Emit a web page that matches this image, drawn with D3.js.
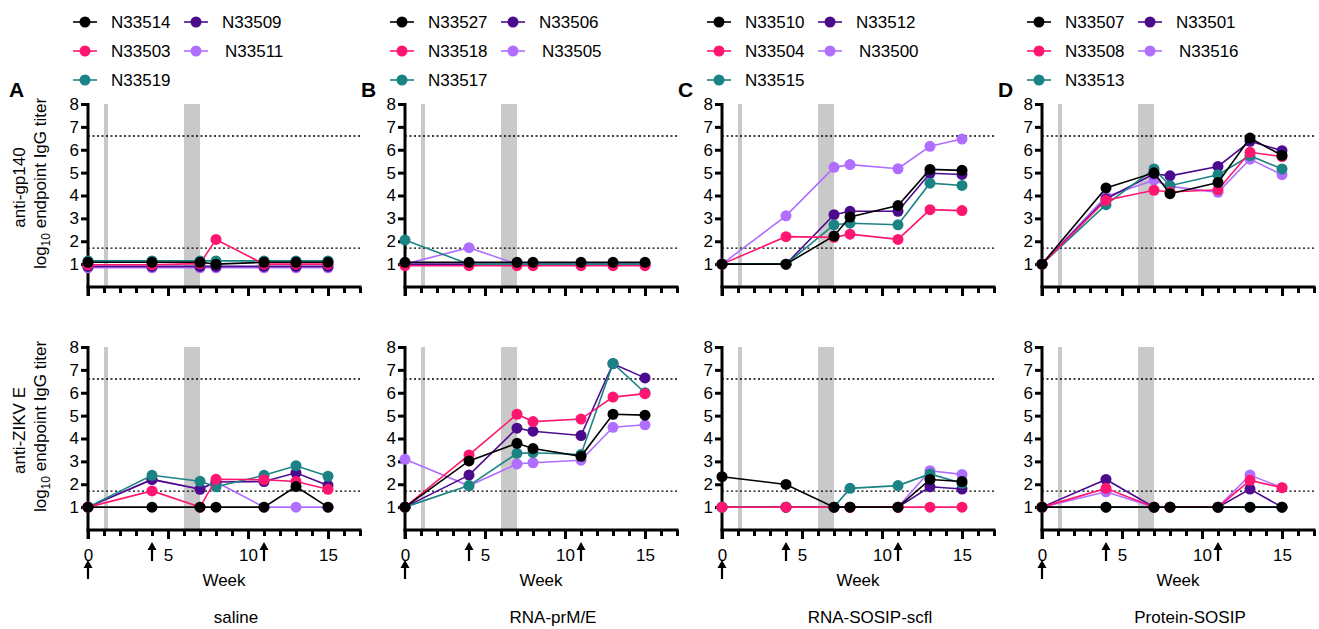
<!DOCTYPE html>
<html lang="en">
<head>
<meta charset="UTF-8">
<title>Endpoint IgG titers</title>
<script src="https://d3js.org/d3.v7.min.js"></script>
<style>
  body { margin: 0; background: #fff; }
  svg text { font-family: "Liberation Sans", Arial, sans-serif; fill: #000; }
  .tick text { font-size: 17px; }
</style>
</head>
<body>
<script>
// weeks sampled
const weeks = [0, 4, 7, 8, 11, 13, 15];
const groups = ["saline", "RNA-prM/E", "RNA-SOSIP-scfl", "Protein-SOSIP"];
const letters = ["A", "B", "C", "D"];
const yTicks = [1, 2, 3, 4, 5, 6, 7, 8];
const xLabels = [0, 5, 10, 15];
const boostWeeks = [0, 4, 11];
const shadeWeeks = [[1, 1.25], [6, 7]];
const cutoffs = [1.7, 6.6];

// legend order (row-major): black, indigo, pink, lavender, teal
const colors = ["#000000", "#4b0b8c", "#ff1670", "#b06eff", "#1b8383"];

const salineIds = ["N33514", "N33509", "N33503", "N33511", "N33519"];
const salineGp140 = [
  [1.08, 1.08, 1.08, 1.0, 1.08, 1.08, 1.08],
  [0.9, 0.9, 0.9, 0.9, 0.9, 0.9, 0.9],
  [0.97, 0.97, 1.02, 2.08, 1.0, 1.0, 1.0],
  [0.84, 0.84, 0.84, 0.84, 0.84, 0.84, 0.84],
  [1.14, 1.14, 1.14, 1.14, 1.14, 1.14, 1.14]
];
const salineZikv = [
  [1, 1, 1, 1, 1, 1.9, 1],
  [1, 2.21, 1.78, 2.1, 2.12, 2.5, 1.95],
  [1, 1.71, 1, 2.22, 2.2, 2.12, 1.78],
  [1, 2.2, 1.8, 2.1, 1, 1, 1],
  [1, 2.39, 2.13, 1.89, 2.39, 2.81, 2.35]
];

const prmeIds = ["N33527", "N33506", "N33518", "N33505", "N33517"];
const prmeGp140 = [
  [1.08, 1.08, 1.08, 1.08, 1.08, 1.08, 1.08],
  [1.0, 1.0, 1.0, 1.0, 1.0, 1.0, 1.0],
  [0.93, 0.93, 0.93, 0.93, 0.93, 0.93, 0.93],
  [1.0, 1.72, 1.0, 1.0, 1.0, 1.0, 1.0],
  [2.05, 1.0, 1.0, 1.0, 1.0, 1.0, 1.0]
];
const prmeZikv = [
  [1, 3.02, 3.79, 3.56, 3.22, 5.06, 5.02],
  [1, 2.4, 4.45, 4.32, 4.13, 7.27, 6.65],
  [1, 3.28, 5.06, 4.74, 4.85, 5.81, 5.96],
  [3.09, 1.93, 2.89, 2.94, 3.05, 4.49, 4.6],
  [1, 1.94, 3.35, 3.38, 3.3, 7.28, 6.0]
];

const sosipIds = ["N33510", "N33512", "N33504", "N33500", "N33515"];
const sosipGp140 = [
  [1, 1, 2.23, 3.06, 3.56, 5.14, 5.1],
  [1, 1, 3.16, 3.31, 3.31, 4.97, 4.92],
  [1, 2.2, 2.17, 2.31, 2.08, 3.38, 3.34],
  [1, 3.11, 5.23, 5.35, 5.17, 6.15, 6.47],
  [1, 1, 2.72, 2.79, 2.72, 4.54, 4.44]
];
const sosipZikv = [
  [2.33, 1.99, 1, 1, 1, 2.21, 2.12],
  [1, 1, 1, 1, 1, 1.89, 1.79],
  [1, 1, 1, 1, 1, 1, 1],
  [1, 1, 1, 1, 1, 2.59, 2.43],
  [1, 1, 1, 1.82, 1.94, 2.45, 2.04]
];

const proteinIds = ["N33507", "N33501", "N33508", "N33516", "N33513"];
const proteinGp140 = [
  [1, 4.33, 4.99, 4.08, 4.57, 6.51, 5.75],
  [1, 3.85, 4.95, 4.86, 5.27, 6.37, 5.96],
  [1, 3.79, 4.23, 4.15, 4.25, 5.89, 5.7],
  [1, 3.96, 4.67, 4.4, 4.14, 5.59, 4.91],
  [1, 3.6, 5.16, 4.43, 4.91, 5.74, 5.16]
];
const proteinZikv = [
  [1, 1, 1, 1, 1, 1, 1],
  [1, 2.21, 1, 1, 1, 1.79, 1],
  [1, 1.82, 1, 1, 1, 2.17, 1.85],
  [1, 1.67, 1, 1, 1, 2.4, 1.85],
  [1, 1, 1, 1, 1, 1, 1]
];

const ids = [salineIds, prmeIds, sosipIds, proteinIds];
const gp140 = [salineGp140, prmeGp140, sosipGp140, proteinGp140];
const zikv = [salineZikv, prmeZikv, sosipZikv, proteinZikv];

// bottom to top: lavender, indigo, teal, pink, black
const drawOrder = [3, 1, 4, 2, 0];

const W = 1319, H = 629;
const axisLeft = [88, 405, 722, 1042];
const plotW = 272;
const rowRange = [[287, 104], [530, 347]];

const svg = d3.select("body").append("svg")
  .attr("width", W).attr("height", H);

groups.forEach((g, gi) => {
  const x0 = axisLeft[gi];
  const x = d3.scaleLinear().domain([0, 17]).range([x0, x0 + plotW]);

  // legend
  const leg = svg.append("g");
  ids[gi].forEach((id, k) => {
    const col = k % 2, row = Math.floor(k / 2);
    const cx = x0 - 3 + col * 111;
    const cy = 22 + row * 29;
    leg.append("line").attr("x1", cx - 12).attr("x2", cx + 12)
      .attr("y1", cy).attr("y2", cy)
      .attr("stroke", colors[k]).attr("stroke-width", 1.6);
    leg.append("circle").attr("cx", cx).attr("cy", cy).attr("r", 5.5)
      .attr("fill", colors[k]);
    leg.append("text").attr("x", cx + 26 - (col === 1 && row === 1 ? -3 : 0)).attr("y", cy)
      .attr("dominant-baseline", "central")
      .style("font-size", "17px").text(id);
  });

  svg.append("text").attr("x", x0 - (gi === 0 ? 79 : 44)).attr("y", 97)
    .style("font-size", "21px").style("font-weight", "bold").text(letters[gi]);

  [gp140[gi], zikv[gi]].forEach((series, ri) => {
    const y = d3.scaleLinear().domain([0, 8]).range(rowRange[ri]);
    const p = svg.append("g");

    // shaded windows
    shadeWeeks.forEach(s => {
      p.append("rect")
        .attr("x", x(s[0])).attr("width", x(s[1]) - x(s[0]))
        .attr("y", y(8)).attr("height", y(0) - y(8))
        .attr("fill", "#c9c9c9");
    });

    // cutoff lines
    cutoffs.forEach(c => {
      p.append("line")
        .attr("x1", x(0)).attr("x2", x(17))
        .attr("y1", y(c)).attr("y2", y(c))
        .attr("stroke", "#000").attr("stroke-width", 1.4)
        .attr("stroke-dasharray", "2,2.5");
    });

    // y axis
    const ya = p.append("g").attr("transform", `translate(${x0},0)`)
      .call(d3.axisLeft(y).tickValues(yTicks).tickSize(7).tickPadding(2)
        .tickFormat(d3.format("d")));
    ya.select(".domain").remove();
    ya.selectAll(".tick line").attr("stroke-width", 3);
    p.append("line").attr("x1", x0).attr("x2", x0)
      .attr("y1", y(8) - 1).attr("y2", y(0) + 9)
      .attr("stroke", "#000").attr("stroke-width", 3);

    // x axis: minor + major ticks
    const xa = p.append("g").attr("transform", `translate(0,${y(0)})`)
      .call(d3.axisBottom(x).tickValues(d3.range(0, 18)).tickSize(6)
        .tickFormat(""));
    xa.select(".domain").remove();
    xa.selectAll(".tick line").attr("stroke-width", 3);
    const xm = p.append("g").attr("transform", `translate(0,${y(0)})`)
      .call(d3.axisBottom(x).tickValues(xLabels).tickSize(9).tickPadding(10)
        .tickFormat(ri === 1 ? d3.format("d") : ""));
    xm.select(".domain").remove();
    xm.selectAll(".tick line").attr("stroke-width", 3);
    p.append("line").attr("x1", x0 - 1.5).attr("x2", x(17) + 1.5)
      .attr("y1", y(0)).attr("y2", y(0))
      .attr("stroke", "#000").attr("stroke-width", 3);

    // series
    const line = d3.line().x((d, i) => x(weeks[i])).y(d => y(d));
    drawOrder.forEach(k => {
      p.append("path").datum(series[k])
        .attr("d", line).attr("fill", "none")
        .attr("stroke", colors[k]).attr("stroke-width", 1.6);
      p.selectAll(null).data(series[k]).enter().append("circle")
        .attr("cx", (d, i) => x(weeks[i])).attr("cy", d => y(d))
        .attr("r", 5.5).attr("fill", colors[k]);
    });

    if (ri === 1) {
      // immunization arrows
      boostWeeks.forEach(w => {
        const top = w === 0 ? y(0) + 30 : y(0) + 12;
        const ax = x(w);
        p.append("line").attr("x1", ax).attr("x2", ax)
          .attr("y1", top + 5).attr("y2", top + 19)
          .attr("stroke", "#000").attr("stroke-width", 2.2);
        p.append("path")
          .attr("d", `M${ax},${top} L${ax - 4.5},${top + 8} L${ax + 4.5},${top + 8} Z`)
          .attr("fill", "#000");
      });
      p.append("text").attr("x", x(8.5)).attr("y", y(0) + 56)
        .attr("text-anchor", "middle").style("font-size", "17px").text("Week");
      p.append("text").attr("x", x(8.5) + 12).attr("y", 623)
        .attr("text-anchor", "middle").style("font-size", "17px").text(g);
    }

    if (gi === 0) {
      const cyMid = (y(8) + y(0)) / 2 - 8;
      p.append("text")
        .attr("transform", `translate(25,${cyMid}) rotate(-90)`)
        .attr("text-anchor", "middle").style("font-size", "17px")
        .text(ri === 0 ? "anti-gp140" : "anti-ZIKV E");
      const t2 = p.append("text")
        .attr("transform", `translate(46,${cyMid - 4}) rotate(-90)`)
        .attr("text-anchor", "middle").style("font-size", "17px");
      t2.append("tspan").text("log");
      t2.append("tspan").attr("dy", 4).style("font-size", "12px").text("10");
      t2.append("tspan").attr("dy", -4).text(" endpoint IgG titer");
    }
  });
});
</script>
</body>
</html>
